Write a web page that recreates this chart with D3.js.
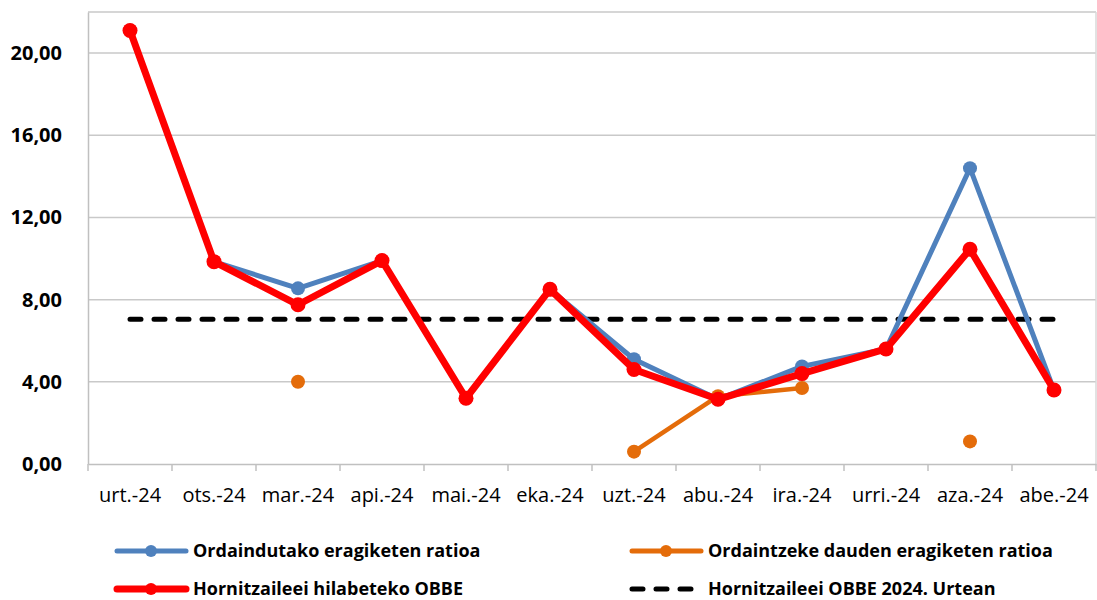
<!DOCTYPE html>
<html>
<head>
<meta charset="utf-8">
<script src="https://cdn.jsdelivr.net/npm/d3@7"></script>
<style>
  body { margin: 0; background: #fff; }
  svg text { font-family: "Open Sans", Lato, sans-serif; fill: #000; }
</style>
</head>
<body>
<div id="chart"></div>
<script>
const months = ["urt.-24", "ots.-24", "mar.-24", "api.-24", "mai.-24", "eka.-24", "uzt.-24", "abu.-24", "ira.-24", "urri.-24", "aza.-24", "abe.-24"];
const paidRatio = [21.1, 9.85, 8.55, 9.9, 3.2, 8.5, 5.1, 3.15, 4.75, 5.6, 14.4, 3.6];
const pendingRatio = [null, null, 4.0, null, null, null, 0.6, 3.3, 3.7, null, 1.1, null];
const monthlyObbe = [21.1, 9.85, 7.75, 9.9, 3.2, 8.5, 4.6, 3.15, 4.4, 5.6, 10.45, 3.6];
const yearObbe = 7.05;
const yTicks = [0, 4, 8, 12, 16, 20];

const W = 1097, H = 600;
const margin = { top: 12, right: 1, bottom: 136, left: 88 };
const width = W - margin.left - margin.right;
const height = H - margin.top - margin.bottom;

const svg = d3.select("#chart").append("svg")
    .attr("width", W)
    .attr("height", H);

const g = svg.append("g")
    .attr("transform", "translate(" + margin.left + "," + margin.top + ")");

const x = d3.scaleBand().domain(months).range([0, width]);
const y = d3.scaleLinear().domain([0, 22]).range([height, 0]);
const cx = d => x(d) + x.bandwidth() / 2;

// gridlines
g.selectAll(".grid")
    .data(yTicks.slice(1).concat([22]))
    .enter().append("line")
    .attr("x1", 0).attr("x2", width)
    .attr("y1", d => y(d)).attr("y2", d => y(d))
    .attr("stroke", "#c9c9c9").attr("stroke-width", 1.5);

// right border
g.append("line")
    .attr("x1", width).attr("x2", width)
    .attr("y1", 0).attr("y2", height)
    .attr("stroke", "#d9d9d9").attr("stroke-width", 1.5);

// y axis
const yAxis = g.append("g")
    .call(d3.axisLeft(y).tickValues(yTicks).tickSize(0).tickPadding(26)
        .tickFormat(d => d3.format(".2f")(d).replace(".", ",")));
yAxis.select(".domain").attr("stroke", "#c0c0c0").attr("stroke-width", 1.5);
yAxis.selectAll("text").attr("font-size", 20).attr("font-weight", "bold");

// x axis
const xAxis = g.append("g")
    .attr("transform", "translate(0," + height + ")")
    .call(d3.axisBottom(x).tickSize(0).tickPadding(24));
xAxis.select(".domain").attr("stroke", "#c0c0c0").attr("stroke-width", 1.5);
xAxis.selectAll("text").attr("font-size", 20);
g.selectAll(".xtick")
    .data(d3.range(months.length + 1))
    .enter().append("line")
    .attr("x1", i => i * x.bandwidth()).attr("x2", i => i * x.bandwidth())
    .attr("y1", height).attr("y2", height + 7)
    .attr("stroke", "#c0c0c0").attr("stroke-width", 1.5);

// yearly average dashed
g.append("line")
    .attr("x1", cx(months[0])).attr("x2", cx(months[months.length - 1]))
    .attr("y1", y(yearObbe)).attr("y2", y(yearObbe))
    .attr("stroke", "#000").attr("stroke-width", 5)
    .attr("stroke-dasharray", "11,13").attr("stroke-linecap", "round");

function drawSeries(values, color, lw, r) {
    const pts = months.map((m, i) => ({ m, v: values[i] }));
    const line = d3.line()
        .defined(d => d.v != null)
        .x(d => cx(d.m)).y(d => y(d.v));
    g.append("path").datum(pts)
        .attr("fill", "none").attr("stroke", color)
        .attr("stroke-width", lw).attr("stroke-linejoin", "round")
        .attr("d", line);
    g.selectAll(null).data(pts.filter(d => d.v != null))
        .enter().append("circle")
        .attr("cx", d => cx(d.m)).attr("cy", d => y(d.v))
        .attr("r", r).attr("fill", color);
}

drawSeries(pendingRatio, "#e46c0a", 4.5, 7);
drawSeries(paidRatio, "#4f81bd", 5, 7);
drawSeries(monthlyObbe, "#ff0000", 7, 7.5);

// legend
const legend = [
    { label: "Ordaindutako eragiketen ratioa", color: "#4f81bd", lw: 5, x: 115, y: 551, marker: true },
    { label: "Ordaintzeke dauden eragiketen ratioa", color: "#e46c0a", lw: 5, x: 630, y: 551, marker: true },
    { label: "Hornitzaileei hilabeteko OBBE", color: "#ff0000", lw: 7, x: 115, y: 589, marker: true },
    { label: "Hornitzaileei OBBE 2024. Urtean", color: "#000", lw: 5, x: 630, y: 589, marker: false }
];
legend.forEach(d => {
    const lg = svg.append("g");
    lg.append("line")
        .attr("x1", d.x + 2).attr("x2", d.x + 71)
        .attr("y1", d.y).attr("y2", d.y)
        .attr("stroke", d.color).attr("stroke-width", d.lw)
        .attr("stroke-linecap", "round")
        .attr("stroke-dasharray", d.marker ? null : "11,13");
    if (d.marker) {
        lg.append("circle").attr("cx", d.x + 36).attr("cy", d.y).attr("r", 6).attr("fill", d.color);
    }
    lg.append("text")
        .attr("x", d.x + 78).attr("y", d.y)
        .attr("dy", "0.35em")
        .attr("font-size", 18).attr("font-weight", "bold")
        .text(d.label);
});
</script>
</body>
</html>
